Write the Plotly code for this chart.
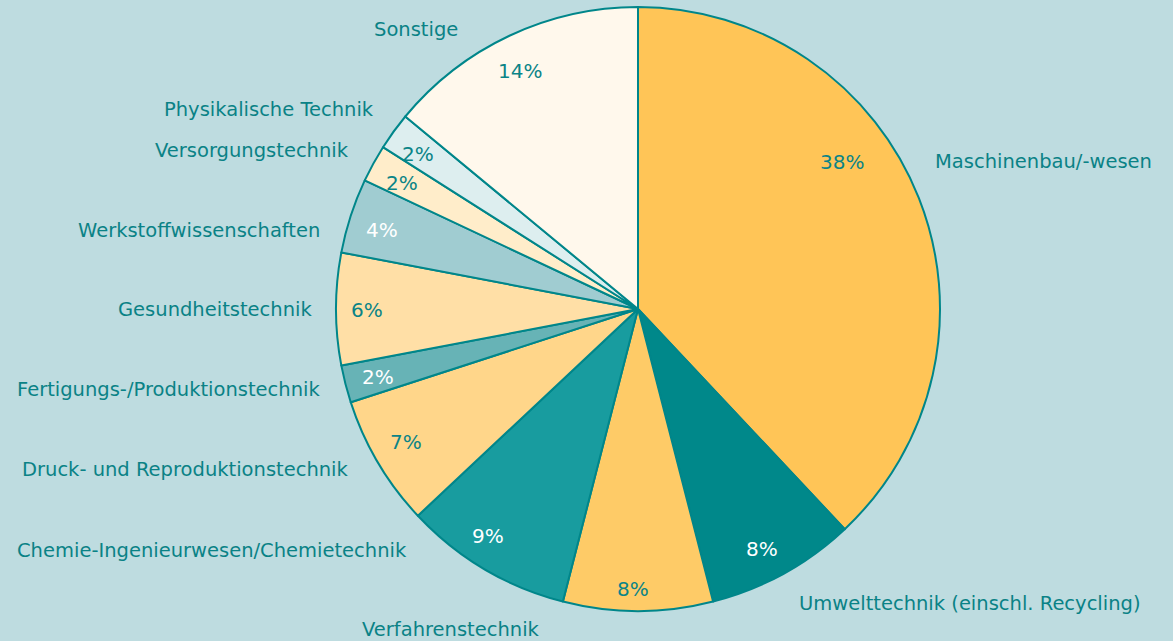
import plotly.graph_objects as go

W, H = 1173, 641

categories = [
    "Maschinenbau/-wesen",
    "Umwelttechnik (einschl. Recycling)",
    "Verfahrenstechnik",
    "Chemie-Ingenieurwesen/Chemietechnik",
    "Druck- und Reproduktionstechnik",
    "Fertigungs-/Produktionstechnik",
    "Gesundheitstechnik",
    "Werkstoffwissenschaften",
    "Versorgungstechnik",
    "Physikalische Technik",
    "Sonstige",
]
values = [38, 8, 8, 9, 7, 2, 6, 4, 2, 2, 14]

colors = ["#FFC557", "#00888A", "#FECB67", "#189C9F", "#FFD68A", "#67B3B6",
          "#FFDFA6", "#A0CCD1", "#FFEDCA", "#DDEEEF", "#FFF8EC"]
pct_colors = ["#0B8487", "white", "#0B8487", "white", "#0B8487", "white",
              "#0B8487", "white", "#0B8487", "#0B8487", "#0B8487"]

# layout positions (pixels) for percentage text and category labels
pct_pos = [(842, 162), (762, 549), (633, 589), (488, 536), (406, 442), (378, 377),
           (367, 310), (382, 230), (402, 183), (418, 154), (520, 71)]
lab_pos = [(933, 162, "left"), (797, 603, "left"), (542, 629, "right"), (409, 550, "right"),
           (351, 469, "right"), (322, 389, "right"), (314, 310, "right"), (322, 230, "right"),
           (351, 150, "right"), (376, 110, "right"), (460, 30, "right")]

TEAL = "#0A8286"
BG = "#BEDCE0"
cx, cy, R = 638, 309, 302

fig = go.Figure(go.Pie(
    labels=categories,
    values=values,
    sort=False,
    direction="clockwise",
    rotation=0,
    marker=dict(colors=colors, line=dict(color="#00868A", width=2)),
    textinfo="none",
    hoverinfo="label+percent",
    showlegend=False,
    domain=dict(x=[(cx - R) / W, (cx + R) / W], y=[1 - (cy + R) / H, 1 - (cy - R) / H]),
))

font_family = "DejaVu Sans"
anns = []
for v, (px, py), c in zip(values, pct_pos, pct_colors):
    anns.append(dict(x=px / W, y=1 - py / H, xref="paper", yref="paper", text=f"{v}%",
                     showarrow=False, font=dict(family=font_family, size=20, color=c),
                     xanchor="center", yanchor="middle"))
for name, (px, py, side) in zip(categories, lab_pos):
    anns.append(dict(x=px / W, y=1 - py / H, xref="paper", yref="paper", text=name,
                     showarrow=False, font=dict(family=font_family, size=19.5, color=TEAL),
                     xanchor=side, yanchor="middle"))

fig.update_layout(
    width=W, height=H,
    margin=dict(l=0, r=0, t=0, b=0),
    paper_bgcolor=BG, plot_bgcolor=BG,
    annotations=anns,
)

fig.write_html("out.html",
               config={"displayModeBar": False},
               post_script="document.body.style.margin='0';document.body.style.padding='0';"
                           "document.body.style.background='%s';" % BG)
